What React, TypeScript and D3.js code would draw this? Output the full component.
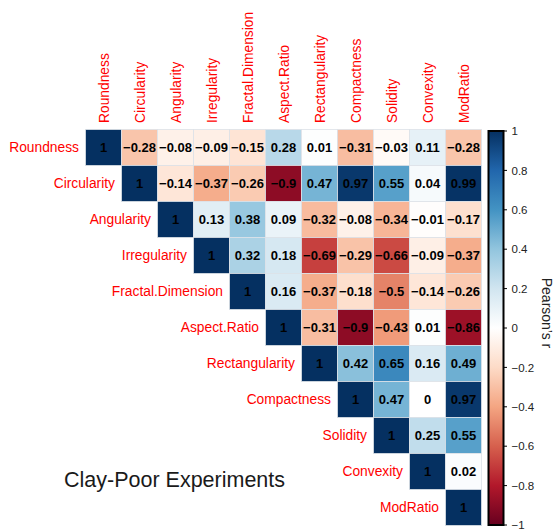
import React from "react";
import * as d3 from "d3";

const variables = [
  "Roundness",
  "Circularity",
  "Angularity",
  "Irregularity",
  "Fractal.Dimension",
  "Aspect.Ratio",
  "Rectangularity",
  "Compactness",
  "Solidity",
  "Convexity",
  "ModRatio",
];

// upper triangle, row i starts at the diagonal
const upperRows: number[][] = [
  [1, -0.28, -0.08, -0.09, -0.15, 0.28, 0.01, -0.31, -0.03, 0.11, -0.28],
  [1, -0.14, -0.37, -0.26, -0.9, 0.47, 0.97, 0.55, 0.04, 0.99],
  [1, 0.13, 0.38, 0.09, -0.32, -0.08, -0.34, -0.01, -0.17],
  [1, 0.32, 0.18, -0.69, -0.29, -0.66, -0.09, -0.37],
  [1, 0.16, -0.37, -0.18, -0.5, -0.14, -0.26],
  [1, -0.31, -0.9, -0.43, 0.01, -0.86],
  [1, 0.42, 0.65, 0.16, 0.49],
  [1, 0.47, 0, 0.97],
  [1, 0.25, 0.55],
  [1, 0.02],
  [1],
];

const colorbarTicks = [1, 0.8, 0.6, 0.4, 0.2, 0, -0.2, -0.4, -0.6, -0.8, -1];

const rdbuStops = [
  "#67001F", "#B2182B", "#D6604D", "#F4A582", "#FDDBC7", "#FFFFFF",
  "#D1E5F0", "#92C5DE", "#4393C3", "#2166AC", "#053061",
];

const title = "Clay-Poor Experiments";
const legendTitle = "Pearson\u2019s r";

const W = 557;
const H = 531;
const gridLeft = 85.5;
const gridTop = 129.5;
const cell = 36;
const font = "'Liberation Sans', Arial, Helvetica, sans-serif";

const fmt = (v: number) => {
  const s = String(v);
  return s.replace("-", "\u2212");
};

export default function App() {
  const n = variables.length;
  const x = d3
    .scaleBand<string>()
    .domain(variables)
    .range([gridLeft, gridLeft + n * cell]);
  const y = d3
    .scaleBand<string>()
    .domain(variables)
    .range([gridTop, gridTop + n * cell]);

  const color = d3
    .scaleLinear<string>()
    .domain(d3.range(rdbuStops.length).map((i) => -1 + (2 * i) / (rdbuStops.length - 1)))
    .range(rdbuStops)
    .interpolate(d3.interpolateRgb);

  const cells = upperRows.flatMap((row, i) =>
    row.map((v, k) => ({ r: variables[i], c: variables[i + k], v }))
  );

  const barX = 488.5;
  const barW = 15;
  const barY = d3.scaleLinear().domain([1, -1]).range([131, 525]);

  return (
    <svg
      width={W}
      height={H}
      style={{ position: "absolute", left: 0, top: 0, background: "#fff" }}
      fontFamily={font}
    >
      <defs>
        <linearGradient id="cbar" x1="0" y1="1" x2="0" y2="0">
          {rdbuStops.map((c, i) => (
            <stop key={i} offset={i / (rdbuStops.length - 1)} stopColor={c} />
          ))}
        </linearGradient>
      </defs>

      {cells.map((d) => (
        <g key={d.r + d.c}>
          <rect
            x={x(d.c)}
            y={y(d.r)}
            width={x.bandwidth()}
            height={y.bandwidth()}
            fill={color(d.v)}
            stroke="#dde2e8"
            strokeWidth={0.8}
          />
          <text
            x={(x(d.c) as number) + x.bandwidth() / 2}
            y={(y(d.r) as number) + y.bandwidth() / 2}
            dy="0.36em"
            textAnchor="middle"
            fontSize={13}
            fontWeight="bold"
            fill="#000"
          >
            {fmt(d.v)}
          </text>
        </g>
      ))}

      {variables.map((v) => (
        <text
          key={"col" + v}
          transform={`translate(${(x(v) as number) + x.bandwidth() / 2 + 5},${gridTop - 6.5}) rotate(-90)`}
          fontSize={13.8}
          fill="#ff0000"
        >
          {v}
        </text>
      ))}

      {variables.map((v) => (
        <text
          key={"row" + v}
          x={(x(v) as number) - 6.5}
          y={(y(v) as number) + y.bandwidth() / 2}
          dy="0.36em"
          textAnchor="end"
          fontSize={13.8}
          fill="#ff0000"
        >
          {v}
        </text>
      ))}

      <rect
        x={barX}
        y={barY(1)}
        width={barW}
        height={barY(-1) - barY(1)}
        fill="url(#cbar)"
        stroke="#000"
        strokeWidth={2}
      />
      {colorbarTicks.map((t) => (
        <g key={"t" + t}>
          <line
            x1={barX + barW}
            x2={barX + barW + 3.5}
            y1={barY(t)}
            y2={barY(t)}
            stroke="#000"
            strokeWidth={1}
          />
          <text
            x={barX + barW + 8}
            y={barY(t)}
            dy="0.36em"
            fontSize={11.5}
            fill="#222"
          >
            {fmt(t)}
          </text>
        </g>
      ))}
      <text
        transform={`translate(542,313) rotate(90)`}
        textAnchor="middle"
        fontSize={14}
        fill="#222"
      >
        {legendTitle}
      </text>

      <text x={64} y={487} fontSize={21.5} fill="#1a1a1a">
        {title}
      </text>
    </svg>
  );
}
